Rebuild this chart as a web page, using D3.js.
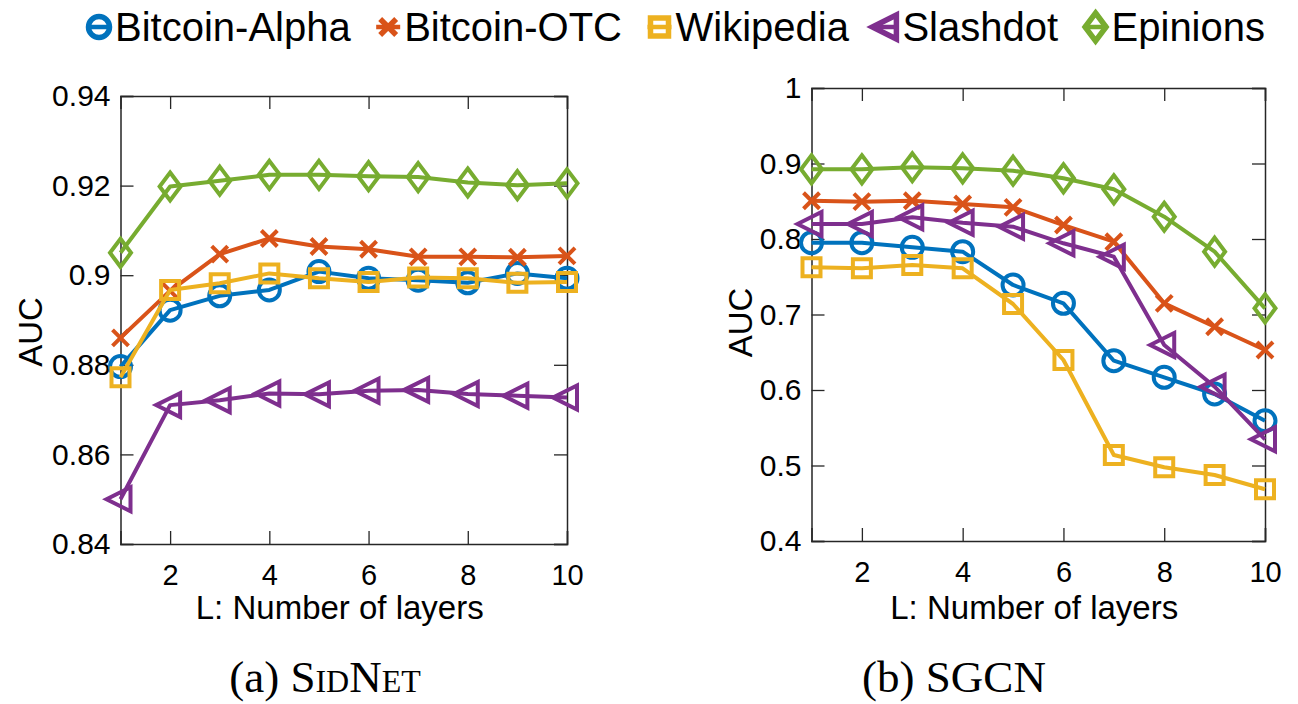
<!DOCTYPE html>
<html>
<head>
<meta charset="utf-8">
<script src="https://cdn.jsdelivr.net/npm/d3@7"></script>
<style>
  html, body { margin: 0; padding: 0; background: #fff; }
  svg { display: block; }
  text { font-family: "Liberation Sans", Arial, sans-serif; fill: #000; }
</style>
</head>
<body>
<svg id="chart" width="1298" height="704"></svg>
<script>
// data
const layers = [1, 2, 3, 4, 5, 6, 7, 8, 9, 10];
const seriesNames = ["Bitcoin-Alpha", "Bitcoin-OTC", "Wikipedia", "Slashdot", "Epinions"];
const seriesColors = ["#0072BD", "#D95319", "#EDB120", "#7E2F8E", "#77AC30"];
const seriesMarkers = ["circle", "cross", "square", "triangleLeft", "diamond"];

const sidnetAlpha = [0.8796, 0.8922, 0.8954, 0.8967, 0.9008, 0.8993, 0.8989, 0.8983, 0.9004, 0.8993];
const sidnetOTC   = [0.8860, 0.8965, 0.9047, 0.9082, 0.9064, 0.9058, 0.9041, 0.9041, 0.9040, 0.9043];
const sidnetWiki  = [0.8772, 0.8967, 0.8982, 0.9004, 0.8993, 0.8985, 0.8995, 0.8993, 0.8983, 0.8985];
const sidnetSlash = [0.8500, 0.8710, 0.8721, 0.8736, 0.8734, 0.8742, 0.8744, 0.8735, 0.8731, 0.8727];
const sidnetEpin  = [0.9050, 0.9198, 0.9211, 0.9224, 0.9224, 0.9221, 0.9219, 0.9207, 0.9201, 0.9205];

const sgcnAlpha = [0.7951, 0.7951, 0.7890, 0.7832, 0.7391, 0.7148, 0.6388, 0.6168, 0.5947, 0.5593];
const sgcnOTC   = [0.8507, 0.8494, 0.8507, 0.8464, 0.8420, 0.8185, 0.7964, 0.7148, 0.6838, 0.6530];
const sgcnWiki  = [0.7625, 0.7612, 0.7656, 0.7612, 0.7139, 0.6397, 0.5139, 0.4976, 0.4874, 0.4685];
const sgcnSlash = [0.8199, 0.8199, 0.8287, 0.8216, 0.8163, 0.7943, 0.7766, 0.6596, 0.6044, 0.5347];
const sgcnEpin  = [0.8923, 0.8923, 0.8950, 0.8936, 0.8905, 0.8804, 0.8658, 0.8295, 0.7832, 0.7082];

const xTicks = [2, 4, 6, 8, 10];
const sidnetYTicks = [0.84, 0.86, 0.88, 0.9, 0.92, 0.94];
const sgcnYTicks = [0.4, 0.5, 0.6, 0.7, 0.8, 0.9, 1];

const xLabel = "L: Number of layers";
const yLabel = "AUC";

const svg = d3.select("#chart");
const AXIS_COLOR = "#262626";

// marker path generators, centred on 0,0
function markerPath(kind) {
  switch (kind) {
    case "circle": return d3.symbol(d3.symbolCircle, Math.PI * 10.5 * 10.5)();
    case "square": return "M-9,-9H9V9H-9Z";
    case "diamond": return "M0,-14L10.5,0L0,14L-10.5,0Z";
    case "triangleLeft": return "M-14,0L10,-12L10,12Z";
    case "cross": return "M-8,-8L8,8M-8,8L8,-8";
  }
}

function drawPanel(opts) {
  const {left, right, top, bottom, yDomain, yTicks, series, labelX, yLabelShift} = opts;
  const x = d3.scaleLinear().domain([1, 10]).range([left, right]);
  const y = d3.scaleLinear().domain(yDomain).range([bottom, top]);
  const g = svg.append("g");

  const fmt = d => String(+d.toFixed(2));

  // axes with inward ticks, mirrored on the opposite sides
  g.append("g").attr("transform", `translate(0,${bottom})`)
    .call(d3.axisBottom(x).tickValues(xTicks).tickSize(-13).tickPadding(20).tickFormat(fmt))
    .call(a => a.selectAll("text").attr("font-size", 29).attr("font-family", "Liberation Sans, Arial, sans-serif").attr("fill", "#000"));
  g.append("g").attr("transform", `translate(0,${top})`)
    .call(d3.axisTop(x).tickValues(xTicks).tickSize(-13).tickFormat(""));
  g.append("g").attr("transform", `translate(${left},0)`)
    .call(d3.axisLeft(y).tickValues(yTicks).tickSize(-13).tickPadding(10).tickFormat(fmt))
    .call(a => a.selectAll("text").attr("font-size", 30).attr("font-family", "Liberation Sans, Arial, sans-serif").attr("fill", "#000"));
  g.append("g").attr("transform", `translate(${right},0)`)
    .call(d3.axisRight(y).tickValues(yTicks).tickSize(-13).tickFormat(""));

  g.selectAll(".domain").attr("stroke", AXIS_COLOR).attr("stroke-width", 1.5);
  g.selectAll(".tick line").attr("stroke", AXIS_COLOR).attr("stroke-width", 1.3);

  // axis labels
  g.append("text")
    .attr("x", (left + right) / 2 - 4).attr("y", 619)
    .attr("text-anchor", "middle").attr("font-size", 33)
    .text(xLabel);
  g.append("text")
    .attr("transform", `translate(${labelX},${(top + bottom) / 2 + yLabelShift}) rotate(-90)`)
    .attr("text-anchor", "middle").attr("font-size", 33)
    .text(yLabel);

  const line = d3.line().x((d, i) => x(layers[i])).y(d => y(d));

  series.forEach((vals, k) => {
    const s = g.append("g");
    s.append("path")
      .datum(vals)
      .attr("d", line)
      .attr("fill", "none")
      .attr("stroke", seriesColors[k])
      .attr("stroke-width", 4)
      .attr("stroke-linejoin", "round");
    s.selectAll("path.mk")
      .data(vals)
      .join("path")
      .attr("class", "mk")
      .attr("transform", (d, i) => `translate(${x(layers[i])},${y(d)})`)
      .attr("d", markerPath(seriesMarkers[k]))
      .attr("fill", "none")
      .attr("stroke", seriesColors[k])
      .attr("stroke-width", 4)
      .attr("stroke-linejoin", "miter");
  });
}

drawPanel({
  left: 120.5, right: 567, top: 96, bottom: 544,
  yDomain: [0.84, 0.94], yTicks: sidnetYTicks,
  series: [sidnetAlpha, sidnetOTC, sidnetWiki, sidnetSlash, sidnetEpin],
  labelX: 42, yLabelShift: 12
});

drawPanel({
  left: 811.5, right: 1265, top: 88, bottom: 541,
  yDomain: [0.4, 1], yTicks: sgcnYTicks,
  series: [sgcnAlpha, sgcnOTC, sgcnWiki, sgcnSlash, sgcnEpin],
  labelX: 752, yLabelShift: 8
});

// legend across the top, spread between the two plot edges
const legend = svg.append("g");
const legendY = 27;
const items = seriesNames.map((name, k) => {
  const it = legend.append("g");
  it.append("line").attr("x1", -12).attr("x2", 12)
    .attr("stroke", seriesColors[k]).attr("stroke-width", 4.5);
  it.append("path").attr("d", markerPath(seriesMarkers[k]))
    .attr("fill", "none").attr("stroke", seriesColors[k]).attr("stroke-width", 5.5);
  const t = it.append("text").attr("x", 16).attr("y", 14)
    .attr("font-size", 40).text(name);
  return {it, w: 16 + t.node().getComputedTextLength()};
});
const legendStart = 99, legendEnd = 1265;
const totalW = d3.sum(items, d => d.w);
const gap = (legendEnd - legendStart - totalW) / (items.length - 1);
let cursor = legendStart;
items.forEach(d => {
  d.it.attr("transform", `translate(${cursor},${legendY})`);
  cursor += d.w + gap;
});

// sub-captions
const captions = [
  {x: 325, lead: "(a) ", name: "SidNet"},
  {x: 954, lead: "(b) ", name: "SGCN"}
];
captions.forEach(c => {
  const t = svg.append("text")
    .attr("x", c.x).attr("y", 692)
    .attr("text-anchor", "middle")
    .attr("font-size", 45)
    .style("font-family", "'Liberation Serif', 'DejaVu Serif', serif");
  t.append("tspan").text(c.lead);
  t.append("tspan").style("font-variant", "small-caps").text(c.name);
});
</script>
</body>
</html>
